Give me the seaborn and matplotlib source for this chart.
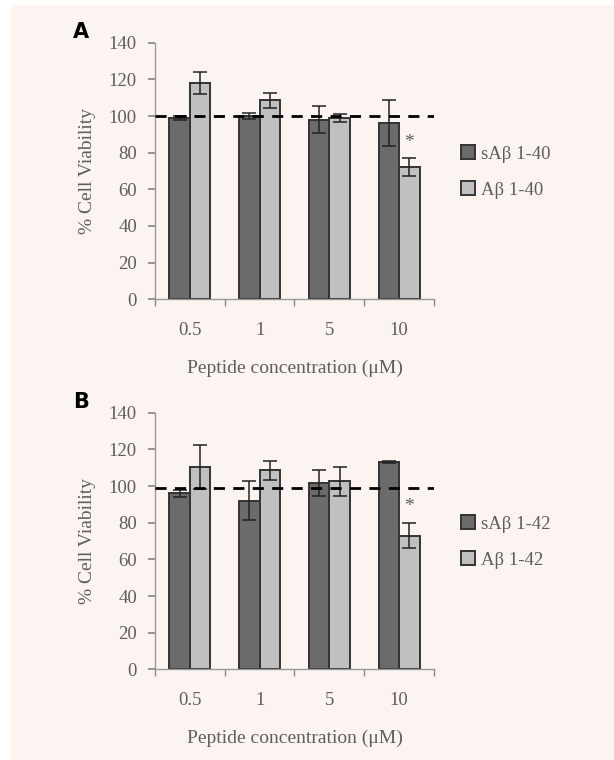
import numpy as np
import pandas as pd
import seaborn as sns
import matplotlib.pyplot as plt
from matplotlib.patches import Patch, Rectangle

# data
concentrations = ['0.5', '1', '5', '10']

a_series = ['sAβ 1-40', 'Aβ 1-40']
a_scrambled = [99, 100, 98, 96]
a_scrambled_err = [1, 1.5, 7.5, 12.5]
a_peptide = [118, 108.5, 99, 72]
a_peptide_err = [6, 4, 2, 5]
a_baseline = 100

b_series = ['sAβ 1-42', 'Aβ 1-42']
b_scrambled = [96, 92, 101.5, 113]
b_scrambled_err = [2, 10.5, 7, 0.5]
b_peptide = [110.5, 108.5, 102.5, 73]
b_peptide_err = [12, 5, 8, 7]
b_baseline = 99

sig_index = 3  # 10 uM, amyloid peptide

BG = '#fcf4f1'
DARK = '#6b6b6b'
LIGHT = '#c0c0c0'
EDGE = '#333333'
TXT = '#5e5e5e'
FS = 13.5

sns.set_theme(style='white')
plt.rcParams['font.family'] = ['Liberation Serif', 'DejaVu Serif']

fig = plt.figure(figsize=(6.14, 7.6), dpi=100)
fig.patch.set_facecolor('white')
fig.add_artist(Rectangle((11 / 614, 0), 1, 1 - 5 / 760, transform=fig.transFigure,
                         facecolor=BG, edgecolor='none', zorder=-10))


def panel(ax, series, scr, scr_err, pep, pep_err, baseline, letter):
    df = pd.DataFrame({
        'conc': concentrations * 2,
        'value': scr + pep,
        'series': [series[0]] * 4 + [series[1]] * 4,
    })
    errs = {series[0]: scr_err, series[1]: pep_err}
    sns.barplot(data=df, x='conc', y='value', hue='series', order=concentrations,
                hue_order=series, palette=[DARK, LIGHT], width=0.59, gap=0,
                errorbar=None, edgecolor=EDGE, linewidth=1.4, legend=False, ax=ax)
    ax.set_facecolor(BG)

    # error bars from bar geometry
    bars = ax.patches
    for i, s in enumerate(series):
        for j in range(len(concentrations)):
            p = bars[i * len(concentrations) + j]
            xc = p.get_x() + p.get_width() / 2
            h = p.get_height()
            ax.errorbar(xc, h, yerr=errs[s][j], fmt='none', ecolor='#222222',
                        elinewidth=1.1, capsize=5, capthick=1.1, zorder=5)
            if s == series[1] and j == sig_index:
                ax.text(xc, h + errs[s][j] + 4, '*', ha='center', va='bottom',
                        fontsize=14, color=TXT)

    ax.axhline(baseline, color='black', linestyle=(0, (4, 3)), linewidth=2, zorder=6)

    ax.set_ylim(0, 140)
    ax.set_xlim(-0.5, 3.5)
    ax.set_yticks(np.arange(0, 141, 20))
    ax.set_xticks(range(len(concentrations)))
    ax.set_xticklabels(concentrations)
    ax.set_xticks(np.arange(-0.5, 3.6, 1), minor=True)
    ax.tick_params(axis='x', which='major', length=0, pad=16, labelsize=FS, labelcolor=TXT)
    ax.tick_params(axis='x', which='minor', length=5, direction='out', color='#888888', bottom=True)
    ax.tick_params(axis='y', length=5, direction='out', color='#888888', left=True,
                   pad=8, labelsize=FS, labelcolor=TXT)

    for s in ['top', 'right']:
        ax.spines[s].set_visible(False)
    for s in ['left', 'bottom']:
        ax.spines[s].set_color('#999999')
        ax.spines[s].set_linewidth(1)

    ax.set_xlabel('Peptide concentration (μM)', fontsize=14, color=TXT, labelpad=15)
    ax.set_ylabel('% Cell Viability', fontsize=14, color=TXT, labelpad=9)

    handles = [Patch(facecolor=DARK, edgecolor=EDGE, linewidth=1.4, label=series[0]),
               Patch(facecolor=LIGHT, edgecolor=EDGE, linewidth=1.4, label=series[1])]
    leg = ax.legend(handles=handles, loc='center left', bbox_to_anchor=(1.035, 0.496),
                    frameon=False, fontsize=FS, handlelength=0.75, handleheight=0.75,
                    handletextpad=0.35, labelspacing=1.0)
    for t in leg.get_texts():
        t.set_color(TXT)

    ax.text(-0.295, 1.04, letter, transform=ax.transAxes, fontsize=15, fontweight='bold',
            family='DejaVu Sans', color='black', ha='left', va='center')


ax_a = fig.add_axes([0.2524, 0.6062, 0.4544, 0.3376])
ax_b = fig.add_axes([0.2524, 0.1193, 0.4544, 0.3376])

panel(ax_a, a_series, a_scrambled, a_scrambled_err, a_peptide, a_peptide_err, a_baseline, 'A')
panel(ax_b, b_series, b_scrambled, b_scrambled_err, b_peptide, b_peptide_err, b_baseline, 'B')

fig.savefig('out.png', dpi=100)
